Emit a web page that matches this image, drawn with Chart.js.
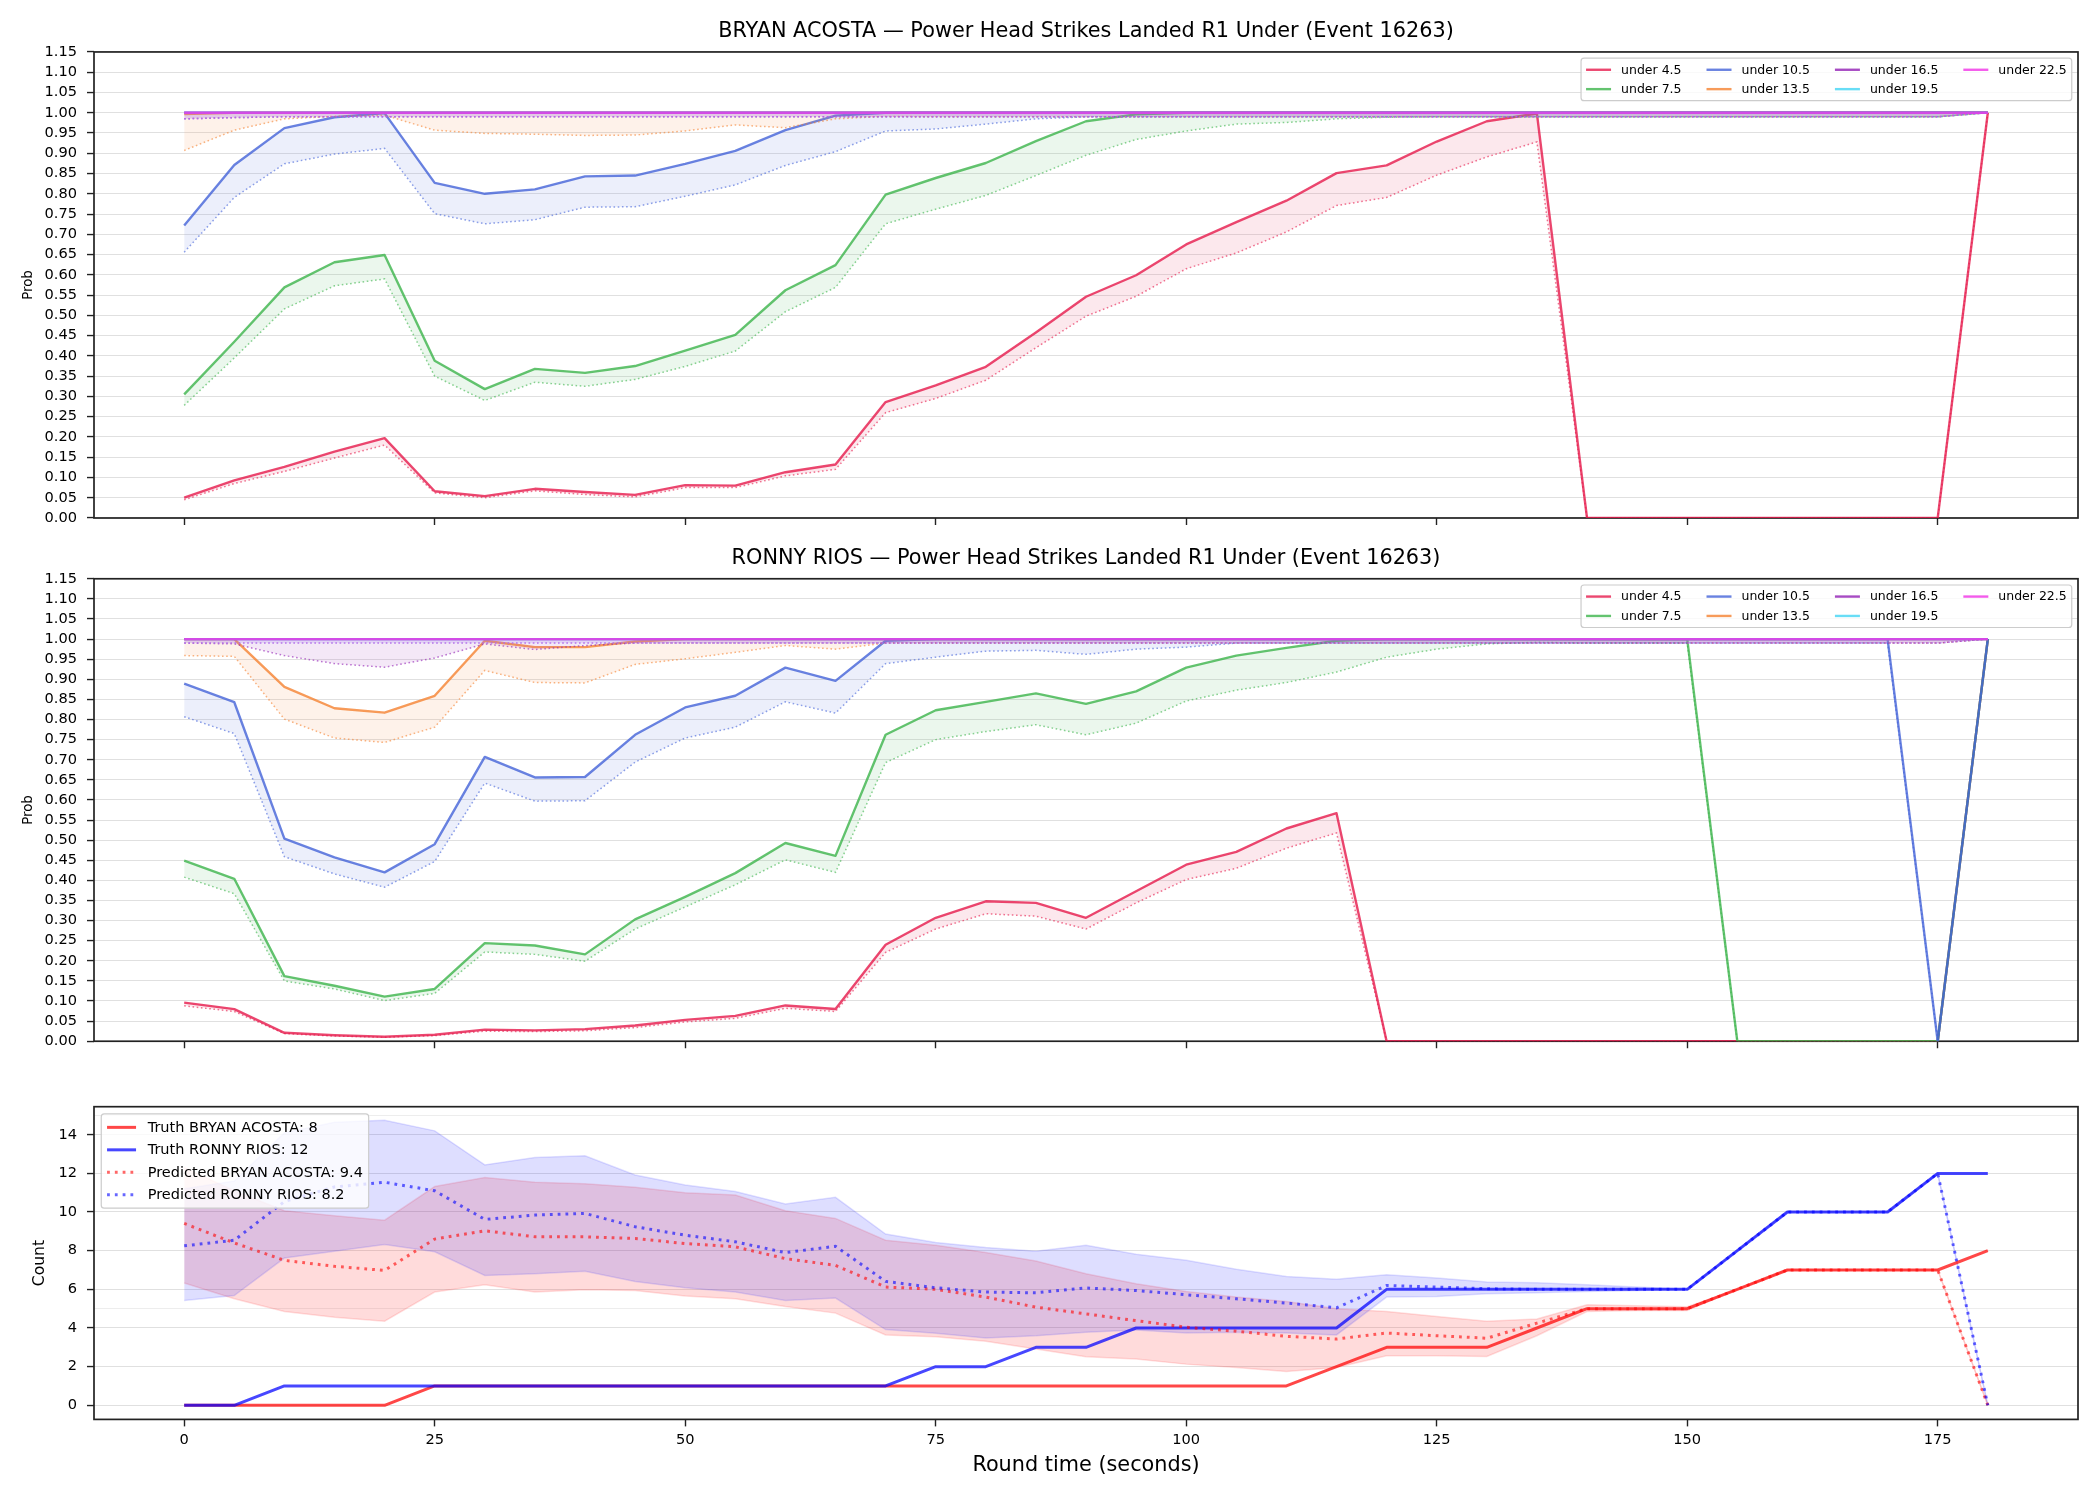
<!DOCTYPE html>
<html>
<head>
<meta charset="utf-8">
<script src="https://cdn.jsdelivr.net/npm/chart.js@4.4.1/dist/chart.umd.min.js"></script>
<style>
  html, body { margin: 0; padding: 0; background: #fff; }
  body { width: 2100px; height: 1500px; position: relative; overflow: hidden; }
  canvas { position: absolute; left: 0; }
</style>
</head>
<body>
<canvas id="acosta" width="2100" height="540" style="top:0px"></canvas>
<canvas id="rios" width="2100" height="520" style="top:540px"></canvas>
<canvas id="counts" width="2100" height="440" style="top:1060px"></canvas>
<script>
// ---- data ----
const roundTime = [0,5,10,15,20,25,30,35,40,45,50,55,60,65,70,75,80,85,90,95,100,105,110,115,120,125,130,135,140,145,150,155,160,165,170,175,180];
const timeTicks = [0,25,50,75,100,125,150,175];
const probTicks = [0,0.05,0.1,0.15,0.2,0.25,0.3,0.35,0.4,0.45,0.5,0.55,0.6,0.65,0.7,0.75,0.8,0.85,0.9,0.95,1,1.05,1.1,1.15];
const countTicks = [0,2,4,6,8,10,12,14];
const countMinorTicks = [5,15];

const lineLabels = ['under 4.5','under 7.5','under 10.5','under 13.5','under 16.5','under 19.5','under 22.5'];
const lineColors = ['#e6194b','#3cb44b','#4363d8','#f58231','#911eb4','#42d4f4','#f032e6'];

const allOnes = [1,1,1,1,1,1,1,1,1,1, 1,1,1,1,1,1,1,1,1,1, 1,1,1,1,1,1,1,1,1,1, 1,1,1,1,1,1,1];

// BRYAN ACOSTA – solid / dotted per line
const acostaU45  = [0.050,0.093,0.126,0.164,0.197,0.066,0.054,0.072,0.064,0.057, 0.081,0.080,0.113,0.132,0.286,0.327,0.373,0.458,0.546,0.599, 0.675,0.730,0.783,0.851,0.870,0.929,0.979,0.998,0,0, 0,0,0,0,0,0,1];
const acostaU45d = [0.045,0.085,0.115,0.148,0.180,0.062,0.050,0.067,0.058,0.052, 0.075,0.075,0.104,0.120,0.260,0.295,0.340,0.420,0.498,0.547, 0.615,0.654,0.706,0.771,0.791,0.846,0.891,0.928,0,0, 0,0,0,0,0,0,1];
const acostaU75  = [0.305,0.435,0.569,0.631,0.649,0.388,0.318,0.368,0.358,0.375, 0.413,0.452,0.562,0.624,0.798,0.839,0.876,0.930,0.979,0.996, 1,1,1,1,1,1,1,1,1,1, 1,1,1,1,1,1,1];
const acostaU75d = [0.278,0.395,0.516,0.573,0.590,0.350,0.290,0.335,0.325,0.342, 0.374,0.412,0.509,0.569,0.726,0.762,0.796,0.845,0.895,0.934, 0.955,0.972,0.976,0.985,0.989,0.99,0.99,0.99,0.99,0.99, 0.99,0.99,0.99,0.99,0.99,0.99,1];
const acostaU105  = [0.722,0.871,0.962,0.989,0.999,0.827,0.800,0.811,0.843,0.845, 0.874,0.906,0.957,0.993,1,1,1,1,1,1, 1,1,1,1,1,1,1,1,1,1, 1,1,1,1,1,1,1];
const acostaU105d = [0.656,0.791,0.874,0.898,0.912,0.751,0.726,0.736,0.767,0.768, 0.794,0.822,0.870,0.904,0.955,0.960,0.972,0.985,0.99,0.99, 0.99,0.99,0.99,0.99,0.99,0.99,0.99,0.99,0.99,0.99, 0.99,0.99,0.99,0.99,0.99,0.99,1];
const acostaU135  = [0.997,1,1,1,1,1,1,1,1,1, 1,1,1,1,1,1,1,1,1,1, 1,1,1,1,1,1,1,1,1,1, 1,1,1,1,1,1,1];
const acostaU135d = [0.907,0.957,0.985,0.991,0.994,0.957,0.949,0.947,0.944,0.945, 0.955,0.970,0.963,0.985,0.991,0.99,0.99,0.99,0.99,0.99, 0.99,0.99,0.99,0.99,0.99,0.99,0.99,0.99,0.99,0.99, 0.99,0.99,0.99,0.99,0.99,0.99,1];
const acostaHighD = [0.985,0.988,0.99,0.99,0.99,0.99,0.99,0.99,0.99,0.99, 0.99,0.99,0.99,0.99,0.99,0.99,0.99,0.99,0.99,0.99, 0.99,0.99,0.99,0.99,0.99,0.99,0.99,0.99,0.99,0.99, 0.99,0.99,0.99,0.99,0.99,0.99,1];

// RONNY RIOS
const riosU45  = [0.096,0.080,0.021,0.015,0.011,0.016,0.029,0.027,0.030,0.039, 0.053,0.063,0.089,0.080,0.240,0.307,0.348,0.344,0.307,0.373, 0.439,0.471,0.529,0.567,0,0,0,0,0,0, 0,0,0,0,0,0,1];
const riosU45d = [0.088,0.074,0.019,0.013,0.010,0.014,0.025,0.024,0.026,0.034, 0.048,0.057,0.082,0.074,0.221,0.279,0.317,0.311,0.279,0.344, 0.402,0.430,0.480,0.518,0,0,0,0,0,0, 0,0,0,0,0,0,1];
const riosU75  = [0.449,0.404,0.162,0.138,0.111,0.130,0.244,0.238,0.216,0.303, 0.359,0.418,0.493,0.461,0.762,0.823,0.844,0.865,0.839,0.870, 0.929,0.959,0.978,0.996,1,1,1,1,1,1, 1,0,0,0,0,0,1];
const riosU75d = [0.408,0.367,0.150,0.130,0.101,0.119,0.222,0.216,0.199,0.279, 0.334,0.389,0.451,0.420,0.693,0.750,0.770,0.787,0.762,0.791, 0.846,0.873,0.892,0.918,0.955,0.975,0.988,0.992,0.99,0.99, 0.99,0,0,0,0,0,1];
const riosU105  = [0.889,0.843,0.504,0.457,0.420,0.490,0.707,0.656,0.657,0.762, 0.830,0.859,0.929,0.896,0.996,1,1,1,1,1, 1,1,1,1,1,1,1,1,1,1, 1,1,1,1,1,0,1];
const riosU105d = [0.807,0.765,0.459,0.416,0.383,0.447,0.642,0.597,0.598,0.694, 0.754,0.781,0.844,0.816,0.939,0.955,0.970,0.972,0.962,0.975, 0.980,0.99,0.99,0.99,0.99,0.99,0.99,0.99,0.99,0.99, 0.99,0.99,0.99,0.99,0.99,0,1];
const riosU135  = [1,1,0.881,0.828,0.817,0.859,0.996,0.980,0.980,0.994, 1,1,1,1,1,1,1,1,1,1, 1,1,1,1,1,1,1,1,1,1, 1,1,1,1,1,1,1];
const riosU135d = [0.959,0.957,0.801,0.754,0.743,0.781,0.922,0.892,0.891,0.937, 0.951,0.967,0.984,0.975,0.990,0.99,0.99,0.99,0.99,0.99, 0.99,0.99,0.99,0.99,0.99,0.99,0.99,0.99,0.99,0.99, 0.99,0.99,0.99,0.99,0.99,0.99,1];
const riosU165d = [0.990,0.988,0.959,0.939,0.930,0.953,0.988,0.974,0.984,0.99, 0.99,0.99,0.99,0.99,0.99,0.99,0.99,0.99,0.99,0.99, 0.99,0.99,0.99,0.99,0.99,0.99,0.99,0.99,0.99,0.99, 0.99,0.99,0.99,0.99,0.99,0.99,1];
const riosHighD = [0.99,0.99,0.99,0.99,0.99,0.99,0.99,0.99,0.99,0.99, 0.99,0.99,0.99,0.99,0.99,0.99,0.99,0.99,0.99,0.99, 0.99,0.99,0.99,0.99,0.99,0.99,0.99,0.99,0.99,0.99, 0.99,0.99,0.99,0.99,0.99,0.99,1];

// counts panel
const truthAcosta = [0,0,0,0,0,1,1,1,1,1, 1,1,1,1,1,1,1,1,1,1, 1,1,1,2,3,3,3,4,5,5, 5,6,7,7,7,7,8];
const truthRios   = [0,0,1,1,1,1,1,1,1,1, 1,1,1,1,1,2,2,3,3,4, 4,4,4,4,6,6,6,6,6,6, 6,8,10,10,10,12,12];
const predAcosta  = [9.41,8.40,7.50,7.19,6.98,8.60,9.03,8.72,8.72,8.63, 8.37,8.20,7.59,7.24,6.12,6.00,5.60,5.08,4.73,4.38, 4.04,3.83,3.57,3.43,3.74,3.60,3.47,4.25,5,5, 5,6,7,7,7,7,0];
const predRios    = [8.25,8.54,10.54,11.30,11.54,11.10,9.62,9.84,9.93,9.24, 8.80,8.46,7.90,8.23,6.41,6.08,5.86,5.82,6.07,5.94, 5.72,5.51,5.29,5.04,6.20,6.12,6.03,6.0,6.0,6.0, 6,8,10,10,10,12,0];
const bandHiAcosta = [12.3,11.1,10.07,9.81,9.58,11.32,11.79,11.54,11.46,11.28, 11.0,10.88,10.07,9.67,8.54,8.28,7.90,7.47,6.81,6.29, 5.89,5.60,5.37,4.99,4.85,4.59,4.35,4.47,5.2,5.15, 5.1,6,7,7,7,7,0];
const bandLoAcosta = [6.33,5.51,4.85,4.56,4.35,5.86,6.24,5.86,5.98,5.94, 5.65,5.51,5.11,4.77,3.64,3.55,3.31,2.91,2.51,2.39, 2.13,1.96,1.75,1.96,2.56,2.56,2.53,3.6,4.85,4.9, 4.9,6,7,7,7,7,0];
const bandHiRios = [11.2,11.6,14.1,14.65,14.75,14.2,12.44,12.82,12.91,11.92, 11.40,11.06,10.42,10.76,8.86,8.42,8.16,7.97,8.28,7.82, 7.50,7.04,6.67,6.52,6.76,6.59,6.38,6.34,6.24,6.12, 6.0,8,10,10,10,12,0];
const bandLoRios = [5.42,5.68,7.62,7.97,8.32,7.94,6.72,6.81,6.93,6.41, 6.08,5.86,5.42,5.55,3.92,3.73,3.48,3.60,3.78,3.90, 3.74,3.78,3.74,3.64,5.60,5.63,5.77,5.82,5.89,5.94, 6.0,8,10,10,10,12,0];

// ---- helpers ----
const FONT = 'DejaVu Sans';
Chart.defaults.font.family = FONT;
Chart.defaults.font.size = 14.6;
Chart.defaults.color = '#000';
const GRID = 'rgba(0,0,0,0.12)';

function pts(arr) {
    return roundTime.map((t, i) => ({ x: t, y: arr[i] }));
}

function rgba(hex, a) {
    const n = parseInt(hex.slice(1), 16);
    return `rgba(${(n >> 16) & 255},${(n >> 8) & 255},${n & 255},${a})`;
}

// frame around the plot area (drawn under the lines so lines at 0 stay visible)
const spines = {
    id: 'spines',
    beforeDatasetsDraw(chart) {
        const { ctx, chartArea: a } = chart;
        ctx.save();
        ctx.strokeStyle = '#222';
        ctx.lineWidth = 1.7;
        ctx.strokeRect(a.left, a.top, a.right - a.left, a.bottom - a.top);
        ctx.restore();
    }
};

// legend drawn inside the plot area, column-major like matplotlib
const boxLegend = {
    id: 'boxLegend',
    afterDraw(chart, args, opts) {
        if (!opts || !opts.display) return;
        const ctx = chart.ctx;
        const fs = opts.fontSize;
        const items = chart.data.datasets.filter(d => d.label);
        ctx.save();
        ctx.font = `${fs}px "${FONT}"`;
        const nrow = Math.ceil(items.length / opts.ncol);
        const handle = 2 * fs, gap = 0.8 * fs, pad = 0.4 * fs;
        const rowH = 1.05 * fs, spacing = 0.5 * fs, colSpace = 2 * fs;
        const cols = [];
        for (let c = 0; c < opts.ncol; c++) {
            const colItems = items.slice(c * nrow, (c + 1) * nrow);
            if (!colItems.length) break;
            const w = Math.max(...colItems.map(d => ctx.measureText(d.label).width));
            cols.push({ items: colItems, w: handle + gap + w });
        }
        const boxW = 2 * pad + cols.reduce((s, c) => s + c.w, 0) + colSpace * (cols.length - 1);
        const boxH = 2 * pad + nrow * rowH + (nrow - 1) * spacing;
        const a = chart.chartArea;
        const off = 0.5 * fs;
        const x0 = opts.corner === 'ne' ? a.right - off - boxW : a.left + off;
        const y0 = a.top + off;
        const r = 3;
        ctx.beginPath();
        ctx.moveTo(x0 + r, y0);
        ctx.arcTo(x0 + boxW, y0, x0 + boxW, y0 + boxH, r);
        ctx.arcTo(x0 + boxW, y0 + boxH, x0, y0 + boxH, r);
        ctx.arcTo(x0, y0 + boxH, x0, y0, r);
        ctx.arcTo(x0, y0, x0 + boxW, y0, r);
        ctx.closePath();
        ctx.fillStyle = 'rgba(255,255,255,0.8)';
        ctx.fill();
        ctx.strokeStyle = '#cccccc';
        ctx.lineWidth = 1.2;
        ctx.stroke();
        let cx = x0 + pad;
        cols.forEach(col => {
            col.items.forEach((d, r) => {
                const yc = y0 + pad + r * (rowH + spacing) + rowH / 2;
                ctx.save();
                ctx.strokeStyle = d.borderColor;
                ctx.lineWidth = d.borderWidth;
                ctx.setLineDash(d.borderDash || []);
                ctx.beginPath();
                ctx.moveTo(cx, yc);
                ctx.lineTo(cx + handle, yc);
                ctx.stroke();
                ctx.restore();
                ctx.fillStyle = '#000';
                ctx.textBaseline = 'middle';
                ctx.textAlign = 'left';
                ctx.fillText(d.label, cx + handle + gap, yc + 0.5);
            });
            cx += col.w + colSpace;
        });
        ctx.restore();
    }
};

function probDatasets(solid, dotted) {
    const ds = [];
    lineLabels.forEach((lab, k) => {
        ds.push({
            label: lab, data: pts(solid[k]),
            borderColor: rgba(lineColors[k], 0.8), borderWidth: 2.4,
            borderJoinStyle: 'round',
            fill: '+1', backgroundColor: rgba(lineColors[k], 0.1)
        });
        ds.push({
            data: pts(dotted[k]),
            borderColor: rgba(lineColors[k], 0.6), borderWidth: 1.5,
            borderDash: [1.6, 2.6], fill: false
        });
    });
    ds.forEach((d, i) => { d.order = -i; d.pointRadius = 0; });
    return ds;
}

function xScale(showLabels, height) {
    return {
        type: 'linear', min: -9, max: 189,
        afterBuildTicks: s => { s.ticks = timeTicks.map(v => ({ value: v })); },
        afterFit: s => { s.height = height; },
        grid: { drawOnChartArea: false, drawTicks: true, tickLength: 7, tickColor: '#222', tickWidth: 1.4 },
        border: { display: false },
        ticks: { display: showLabels, padding: 5, maxRotation: 0, autoSkip: false, callback: v => String(v) }
    };
}

function probConfig(title, titlePad, xHeight, solid, dotted) {
    return {
        type: 'line',
        data: { datasets: probDatasets(solid, dotted) },
        plugins: [spines, boxLegend],
        options: {
            responsive: false, animation: false, events: [], devicePixelRatio: 1,
            layout: { padding: { left: 0, right: 22, top: 0, bottom: 0 } },
            elements: { line: { tension: 0 } },
            plugins: {
                legend: { display: false },
                tooltip: { enabled: false },
                title: {
                    display: true, text: title, fullSize: false, color: '#000',
                    font: { size: 20.8, weight: 'normal' }, padding: titlePad
                },
                boxLegend: { display: true, corner: 'ne', ncol: 4, fontSize: 12.5 }
            },
            scales: {
                x: xScale(false, xHeight),
                y: {
                    type: 'linear', min: 0, max: 1.15, position: 'left',
                    afterBuildTicks: s => { s.ticks = probTicks.map(v => ({ value: v })); },
                    afterFit: s => { s.width = 94; },
                    grid: { color: GRID, lineWidth: 1.1, tickLength: 7, tickColor: '#222', tickWidth: 1.4 },
                    border: { display: false },
                    ticks: { padding: 10, autoSkip: false, callback: v => v.toFixed(2) },
                    title: { display: true, text: 'Prob', font: { size: 13.3 }, padding: { top: 21, bottom: 0 } }
                }
            }
        }
    };
}

new Chart(document.getElementById('acosta'), probConfig(
    'BRYAN ACOSTA \u2014 Power Head Strikes Landed R1 Under (Event 16263)',
    { top: 19, bottom: 8 }, 22,
    [acostaU45, acostaU75, acostaU105, acostaU135, allOnes, allOnes, allOnes],
    [acostaU45d, acostaU75d, acostaU105d, acostaU135d, acostaHighD, acostaHighD, acostaHighD]
));

new Chart(document.getElementById('rios'), probConfig(
    'RONNY RIOS \u2014 Power Head Strikes Landed R1 Under (Event 16263)',
    { top: 6.5, bottom: 7.3 }, 15.7,
    [riosU45, riosU75, riosU105, riosU135, allOnes, allOnes, allOnes],
    [riosU45d, riosU75d, riosU105d, riosU135d, riosU165d, riosHighD, riosHighD]
));

// ---- counts panel ----
const countSets = [
    { data: pts(bandHiAcosta), fill: '+1', backgroundColor: 'rgba(255,0,0,0.14)', borderColor: 'rgba(255,0,0,0.13)', borderWidth: 1.5 },
    { data: pts(bandLoAcosta), fill: false, borderColor: 'rgba(255,0,0,0.13)', borderWidth: 1.5 },
    { data: pts(bandHiRios), fill: '+1', backgroundColor: 'rgba(0,0,255,0.13)', borderColor: 'rgba(0,0,255,0.12)', borderWidth: 1.5 },
    { data: pts(bandLoRios), fill: false, borderColor: 'rgba(0,0,255,0.12)', borderWidth: 1.5 },
    { label: 'Truth BRYAN ACOSTA: 8', data: pts(truthAcosta), borderColor: 'rgba(255,0,0,0.72)', borderWidth: 3, borderJoinStyle: 'round', fill: false },
    { label: 'Truth RONNY RIOS: 12', data: pts(truthRios), borderColor: 'rgba(0,0,255,0.72)', borderWidth: 3, borderJoinStyle: 'round', fill: false },
    { label: 'Predicted BRYAN ACOSTA: 9.4', data: pts(predAcosta), borderColor: 'rgba(255,0,0,0.6)', borderWidth: 3, borderDash: [2.8, 5], fill: false },
    { label: 'Predicted RONNY RIOS: 8.2', data: pts(predRios), borderColor: 'rgba(0,0,255,0.6)', borderWidth: 3, borderDash: [2.8, 5], fill: false }
];
countSets.forEach((d, i) => { d.order = -i; d.pointRadius = 0; });

const countX = xScale(true, 80.6);
countX.title = { display: true, text: 'Round time (seconds)', font: { size: 20.8 }, padding: { top: 0, bottom: 21.5 } };

new Chart(document.getElementById('counts'), {
    type: 'line',
    data: { datasets: countSets },
    plugins: [spines, boxLegend],
    options: {
        responsive: false, animation: false, events: [], devicePixelRatio: 1,
        layout: { padding: { left: 0, right: 22, top: 46.7, bottom: 0 } },
        elements: { line: { tension: 0 } },
        plugins: {
            legend: { display: false },
            tooltip: { enabled: false },
            boxLegend: { display: true, corner: 'nw', ncol: 1, fontSize: 14.5 }
        },
        scales: {
            x: countX,
            y: {
                type: 'linear', min: -0.73, max: 15.45, position: 'left',
                afterBuildTicks: s => { s.ticks = countTicks.map(v => ({ value: v })); },
                afterFit: s => { s.width = 94; },
                grid: { color: GRID, lineWidth: 1.1, tickLength: 7, tickColor: '#222', tickWidth: 1.4 },
                border: { display: false },
                ticks: { padding: 10, autoSkip: false, callback: v => String(v) },
                title: { display: true, text: 'Count', font: { size: 15.6 }, padding: { top: 30.6, bottom: 0 } }
            },
            yMinor: {
                type: 'linear', min: -0.73, max: 15.45, position: 'left',
                afterBuildTicks: s => { s.ticks = countMinorTicks.map(v => ({ value: v })); },
                afterFit: s => { s.width = 0; },
                grid: { color: 'rgba(0,0,0,0.07)', lineWidth: 1.1, drawTicks: false },
                border: { display: false },
                ticks: { display: false }
            }
        }
    }
});
</script>
</body>
</html>
